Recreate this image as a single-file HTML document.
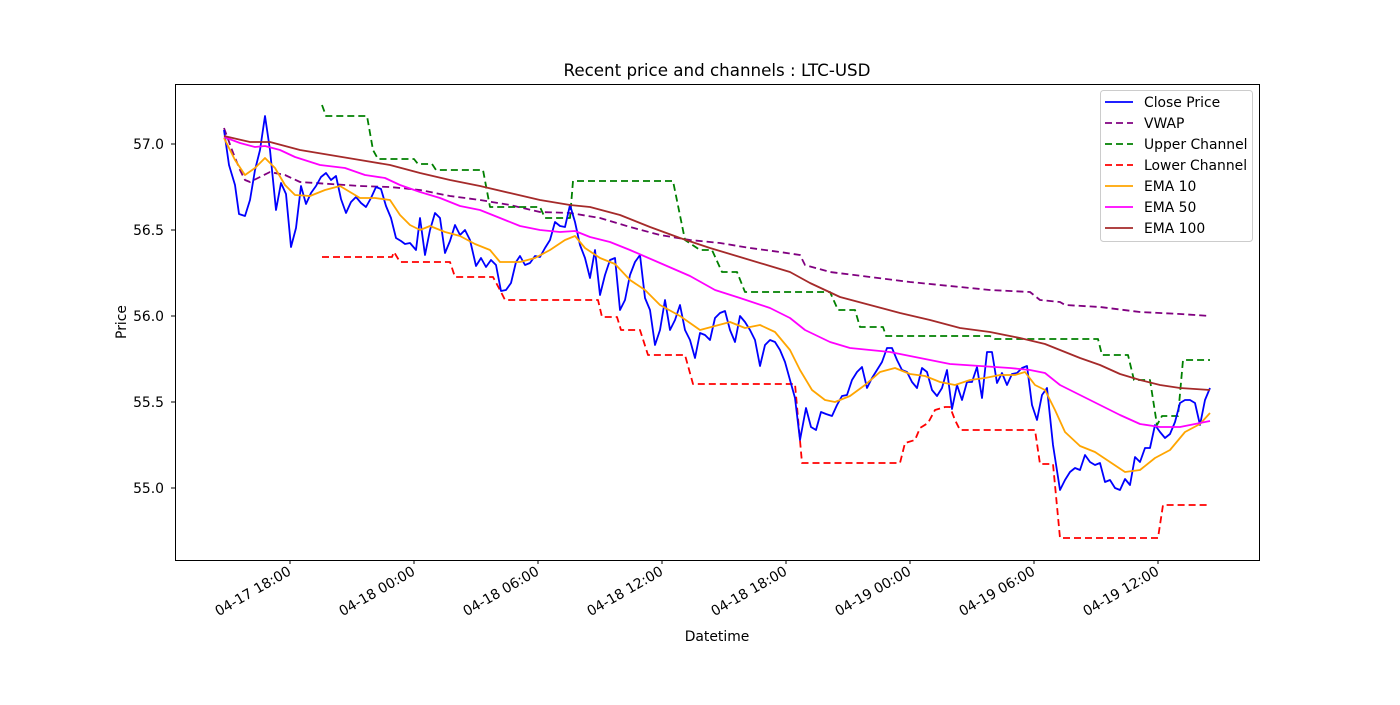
<!DOCTYPE html>
<html><head><style>body{margin:0;background:#fff}svg{font-family:"DejaVu Sans","Liberation Sans",sans-serif}</style></head><body>
<svg width="1400" height="700" xmlns="http://www.w3.org/2000/svg">
<rect width="1400" height="700" fill="#fff"/>
<text x="717" y="76" font-size="16.7" text-anchor="middle">Recent price and channels : LTC-USD</text>
<g fill="none" stroke-width="1.8" stroke-linejoin="round">
<polyline stroke="purple" stroke-dasharray="7,4" points="224,128 232,150 240,170 245,180 250,182 260,177 270,172 285,175 300,182 330,184 360,186 390,187 420,190 450,196 480,200 510,205 540,212 570,213 600,218 630,227 660,235 690,240 720,243 750,248 780,252 800,255 805,265 830,272 870,277 910,282 950,286 990,290 1030,292 1040,300 1060,302 1065,305 1100,307 1140,312 1180,314 1210,316"/>
<polyline stroke="green" stroke-dasharray="7,4" points="322,105 326,116 367,116 373,150 378,159 414,159 418,164 432,164 436,170 483,170 490,207 540,207 545,218 570,218 573,181 673,181 685,240 700,250 712,250 722,272 737,272 745,292 830,292 838,310 855,310 860,327 883,327 886,336 990,336 995,339 1098,339 1102,355 1128,355 1134,380 1150,380 1157,425 1162,416 1178,416 1183,360 1210,360"/>
<polyline stroke="red" stroke-dasharray="7,4" points="322,257 392,257 394,252 400,262 450,262 455,277 493,277 500,290 505,300 598,300 602,317 617,317 621,330 640,330 648,355 685,355 693,384 795,384 802,463 900,463 905,443 915,440 920,428 928,423 935,410 945,407 950,407 955,420 960,430 1035,430 1040,464 1053,464 1060,538 1158,538 1163,505 1210,505"/>
<polyline stroke="blue" points="224,130 229,165 235,185 239,214 245,216 250,200 255,170 260,150 265,116 270,150 276,210 281,183 286,194 291,247 296,228 301,186 306,204 311,193 316,186 321,177 326,173 331,180 336,176 341,199 346,213 351,202 356,197 361,203 366,207 371,198 376,187 381,189 386,206 391,218 396,238 401,241 405,244 410,243 416,250 420,218 425,255 430,230 435,213 440,218 445,253 450,241 455,225 460,235 465,230 470,240 476,266 481,258 486,267 491,260 496,265 501,291 506,290 511,283 516,262 520,256 525,265 530,263 535,256 540,257 545,248 550,240 555,222 560,226 565,227 570,205 575,222 580,245 585,258 590,278 595,250 600,295 605,275 610,260 615,258 620,310 625,300 630,275 635,262 640,255 645,298 650,310 655,345 660,330 665,300 670,330 675,320 680,305 685,330 690,340 695,358 700,333 705,335 710,340 715,318 720,313 725,311 730,330 735,342 740,316 745,322 750,330 755,340 760,366 765,345 770,340 775,342 780,350 785,362 790,380 795,398 800,440 806,408 811,427 816,430 821,412 826,414 832,416 837,405 842,396 847,395 852,380 857,372 862,367 867,388 872,378 877,370 882,362 887,348 892,348 897,360 902,370 907,372 912,382 917,388 922,368 927,372 932,390 937,396 942,388 947,370 952,409 957,385 962,400 967,382 972,382 977,367 982,398 987,352 992,352 997,383 1002,373 1007,385 1012,374 1017,373 1022,368 1027,366 1032,405 1037,420 1042,395 1047,388 1053,445 1060,490 1065,480 1070,472 1075,468 1080,470 1085,455 1090,462 1095,465 1100,463 1105,482 1110,480 1115,488 1120,490 1125,479 1130,485 1135,457 1140,462 1145,448 1150,448 1155,425 1160,432 1165,438 1170,434 1175,422 1180,403 1185,400 1190,400 1195,403 1200,425 1205,400 1210,388"/>
<polyline stroke="orange" points="224,138 235,160 245,175 255,168 265,158 275,168 285,185 295,195 310,196 325,190 340,186 360,198 375,198 390,200 400,215 410,225 420,230 430,226 445,232 460,236 475,244 490,250 500,262 510,262 520,262 535,258 550,250 565,240 575,236 585,248 600,258 615,264 630,280 645,290 660,305 680,316 700,330 715,326 730,322 745,328 760,325 775,332 790,350 800,370 812,390 825,400 835,402 850,396 865,385 880,372 895,368 910,374 925,376 940,382 955,385 970,380 985,378 1000,375 1015,375 1025,372 1035,385 1045,390 1055,410 1065,432 1080,446 1095,452 1110,462 1125,472 1140,470 1155,458 1170,450 1185,432 1200,424 1210,413"/>
<polyline stroke="magenta" points="224,137 240,143 255,147 265,146 280,150 295,157 320,165 345,168 365,175 385,178 400,185 420,192 440,198 460,206 480,210 500,218 520,226 540,230 560,232 575,231 590,237 610,242 630,250 660,263 690,276 715,290 740,298 770,308 790,318 805,330 830,342 850,348 870,350 890,352 920,358 950,364 980,366 1010,368 1030,370 1045,373 1060,385 1080,395 1100,405 1120,415 1140,424 1160,427 1180,427 1200,423 1210,421"/>
<polyline stroke="brown" points="224,136 250,142 270,142 300,150 330,155 360,160 390,165 420,173 450,180 480,186 510,193 540,200 570,205 590,207 620,215 650,227 680,238 710,248 740,257 770,266 790,272 810,283 840,297 870,305 900,313 930,320 960,328 990,332 1020,338 1045,344 1060,350 1080,358 1100,365 1120,374 1140,380 1160,385 1180,388 1210,390"/>
</g>
<rect x="175.5" y="84.5" width="1084" height="476" fill="none" stroke="#000" stroke-width="1"/>
<g stroke="#000" stroke-width="1">
<line x1="175" x2="171" y1="144" y2="144"/><line x1="175" x2="171" y1="230" y2="230"/><line x1="175" x2="171" y1="316" y2="316"/><line x1="175" x2="171" y1="402" y2="402"/><line x1="175" x2="171" y1="488" y2="488"/>
<line x1="290" x2="290" y1="560" y2="564"/><line x1="414" x2="414" y1="560" y2="564"/><line x1="538" x2="538" y1="560" y2="564"/><line x1="662" x2="662" y1="560" y2="564"/><line x1="786" x2="786" y1="560" y2="564"/><line x1="910" x2="910" y1="560" y2="564"/><line x1="1034" x2="1034" y1="560" y2="564"/><line x1="1158" x2="1158" y1="560" y2="564"/>
</g>
<g font-size="13.9" text-anchor="end">
<text x="164" y="149">57.0</text><text x="164" y="235">56.5</text><text x="164" y="321">56.0</text><text x="164" y="407">55.5</text><text x="164" y="493">55.0</text>
</g>
<g font-size="13.9" text-anchor="end">
<text transform="translate(292,574) rotate(-30)">04-17 18:00</text>
<text transform="translate(416,574) rotate(-30)">04-18 00:00</text>
<text transform="translate(540,574) rotate(-30)">04-18 06:00</text>
<text transform="translate(664,574) rotate(-30)">04-18 12:00</text>
<text transform="translate(788,574) rotate(-30)">04-18 18:00</text>
<text transform="translate(912,574) rotate(-30)">04-19 00:00</text>
<text transform="translate(1036,574) rotate(-30)">04-19 06:00</text>
<text transform="translate(1160,574) rotate(-30)">04-19 12:00</text>
</g>
<text x="717" y="641" font-size="13.9" text-anchor="middle">Datetime</text>
<text transform="translate(126,322) rotate(-90)" font-size="13.9" text-anchor="middle">Price</text>
<rect x="1100.5" y="90.5" width="152" height="151" rx="3" fill="#fff" fill-opacity="0.8" stroke="#ccc"/>
<g stroke-width="1.8">
<line x1="1105" x2="1133" y1="102" y2="102" stroke="blue"/>
<line x1="1105" x2="1133" y1="123" y2="123" stroke="purple" stroke-dasharray="7,4"/>
<line x1="1105" x2="1133" y1="144" y2="144" stroke="green" stroke-dasharray="7,4"/>
<line x1="1105" x2="1133" y1="165" y2="165" stroke="red" stroke-dasharray="7,4"/>
<line x1="1105" x2="1133" y1="186" y2="186" stroke="orange"/>
<line x1="1105" x2="1133" y1="207" y2="207" stroke="magenta"/>
<line x1="1105" x2="1133" y1="228" y2="228" stroke="brown"/>
</g>
<g font-size="13.9">
<text x="1144" y="107">Close Price</text><text x="1144" y="128">VWAP</text><text x="1144" y="149">Upper Channel</text><text x="1144" y="170">Lower Channel</text><text x="1144" y="191">EMA 10</text><text x="1144" y="212">EMA 50</text><text x="1144" y="233">EMA 100</text>
</g>
</svg>
</body></html>
